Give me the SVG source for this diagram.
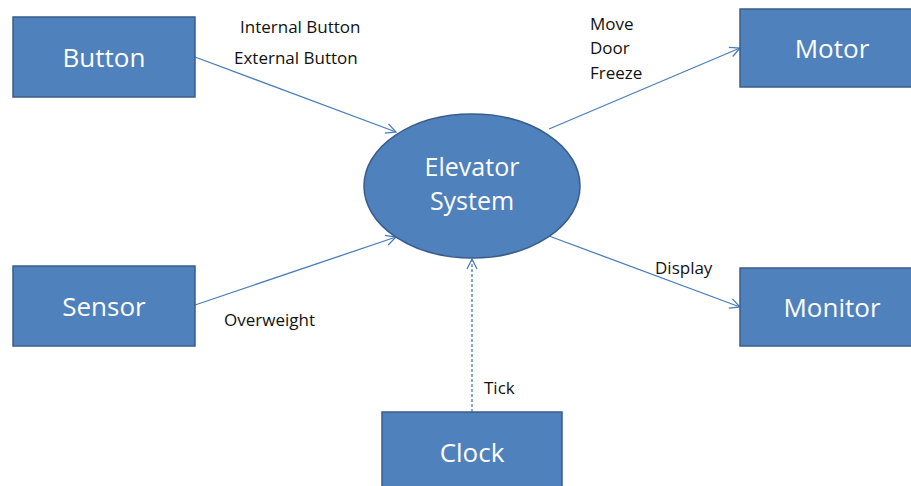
<svg xmlns="http://www.w3.org/2000/svg" width="911" height="486" viewBox="0 0 911 486">
  <style>
    .box { fill: #4f81bd; stroke: #385d8a; stroke-width: 1.5; }
    .node-label { font-family: "Open Sans", "Noto Sans", sans-serif; font-size: 26px; fill: #ffffff; text-anchor: middle; }
    .edge { stroke: #4a7ebb; stroke-width: 1.3; fill: none; marker-end: url(#arrow); }
    .edge-label { font-family: "Open Sans", "Noto Sans", sans-serif; font-size: 17px; fill: #111111; }
  </style>
  <defs>
    <marker id="arrow" viewBox="0 0 12 12" refX="11" refY="6" markerWidth="12" markerHeight="12" markerUnits="userSpaceOnUse" orient="auto">
      <path d="M1,1 L11,6 L1,11" fill="none" stroke="#4a7ebb" stroke-width="1.3"/>
    </marker>
  </defs>
  <rect width="911" height="486" fill="#ffffff"/>

  <g id="connectors">
    <line class="edge" x1="195" y1="57" x2="396" y2="132"/>
    <line class="edge" x1="195" y1="305" x2="396" y2="237"/>
    <line class="edge" x1="549" y1="129" x2="740" y2="48"/>
    <line class="edge" x1="549" y1="236" x2="740" y2="307"/>
    <line class="edge" x1="472" y1="412" x2="472" y2="259" stroke-dasharray="3,2"/>
  </g>

  <g id="edge-labels">
    <text class="edge-label" x="240" y="33">Internal Button</text>
    <text class="edge-label" x="234" y="64">External Button</text>
    <text class="edge-label" x="590" y="30">Move</text>
    <text class="edge-label" x="590" y="54">Door</text>
    <text class="edge-label" x="590" y="79">Freeze</text>
    <text class="edge-label" x="224" y="326">Overweight</text>
    <text class="edge-label" x="655" y="274">Display</text>
    <text class="edge-label" x="484" y="394">Tick</text>
  </g>

  <g id="button">
    <rect class="box" x="13" y="17" width="182" height="80"/>
    <text class="node-label" x="104" y="67">Button</text>
  </g>
  <g id="sensor">
    <rect class="box" x="13" y="266" width="182" height="80"/>
    <text class="node-label" x="104" y="316">Sensor</text>
  </g>
  <g id="motor">
    <rect class="box" x="740" y="9" width="182" height="78"/>
    <text class="node-label" x="832" y="58">Motor</text>
  </g>
  <g id="monitor">
    <rect class="box" x="740" y="268" width="182" height="78"/>
    <text class="node-label" x="832" y="317">Monitor</text>
  </g>
  <g id="clock">
    <rect class="box" x="382" y="412" width="180" height="90"/>
    <text class="node-label" x="472" y="462">Clock</text>
  </g>
  <g id="elevator-system">
    <ellipse class="box" cx="472" cy="186" rx="108" ry="72"/>
    <text class="node-label" x="472" y="176" style="font-size:25px">Elevator</text>
    <text class="node-label" x="472" y="210" style="font-size:25px">System</text>
  </g>
</svg>
